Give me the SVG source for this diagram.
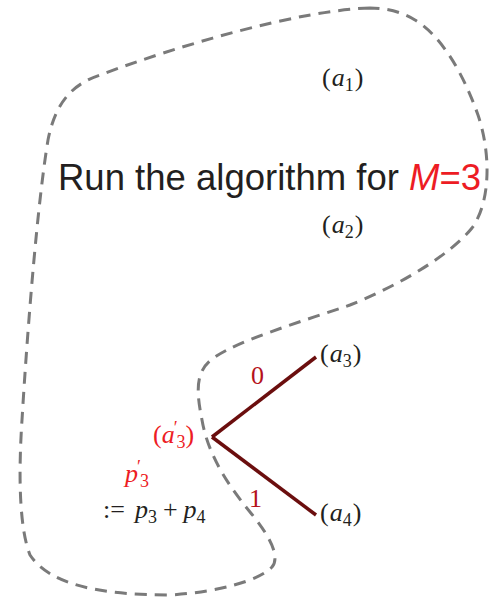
<svg xmlns="http://www.w3.org/2000/svg" width="491" height="599" viewBox="0 0 491 599">
<style>
.m{font-family:"Liberation Serif","DejaVu Serif",serif;font-size:26px;fill:#231f20}
.i{font-style:italic}
.s{font-size:18px}
.r{fill:#ed1c24}
.d{fill:#b5121b}
.edge{stroke:#6b0e0e;stroke-width:3.5;fill:none;stroke-linecap:butt}
</style>
<rect width="491" height="599" fill="#fff"/>
<g id="region">
<path d="M370,8 C300,10 180,45 100,75 C70,85 55,105 48,140 C38,200 28,320 22,420 C18,480 20,530 30,555 C50,585 100,595 170,595 C220,592 260,580 272,567 C282,555 265,530 250,512 C228,485 208,455 202,420 C196,390 195,370 215,357 C240,340 300,322 350,305 C400,285 450,255 472,228 C492,200 490,150 478,115 C462,70 440,35 415,20 C400,11 385,8 370,8 Z" fill="none" stroke="#7a7a7a" stroke-width="3" stroke-dasharray="12,8"/>
</g>
<g id="title">
<text x="58" y="190" font-family="'Liberation Sans',Arial,sans-serif" font-size="36.5" fill="#231f20">Run the algorithm for <tspan class="r" font-style="italic">M</tspan><tspan class="r">=3</tspan></text>
</g>
<g id="connectors">
<line class="edge" x1="212" y1="437" x2="316" y2="357"/>
<line class="edge" x1="212" y1="437" x2="316" y2="515"/>
<text class="m d" x="251" y="384" font-size="22">0</text>
<text class="m d" x="249" y="507" font-size="22">1</text>
</g>
<g id="a1"><text class="m" x="322" y="86">(<tspan class="i" dx="1">a</tspan><tspan class="s" dy="5">1</tspan><tspan dx="1" dy="-5">)</tspan></text></g>
<g id="a2"><text class="m" x="322" y="233">(<tspan class="i" dx="1">a</tspan><tspan class="s" dy="5">2</tspan><tspan dx="1" dy="-5">)</tspan></text></g>
<g id="a3"><text class="m" x="320" y="362">(<tspan class="i" dx="1">a</tspan><tspan class="s" dy="5">3</tspan><tspan dx="1" dy="-5">)</tspan></text></g>
<g id="a4"><text class="m" x="320" y="521">(<tspan class="i" dx="1">a</tspan><tspan class="s" dy="5">4</tspan><tspan dx="1" dy="-5">)</tspan></text></g>
<g id="a3p"><text class="m r" x="153" y="443">(<tspan class="i">a</tspan><tspan class="s" dx="-1" dy="-9">′</tspan><tspan class="s" dx="-1" dy="14">3</tspan><tspan dy="-5">)</tspan></text></g>
<g id="p3p">
<text class="m r" x="125" y="482"><tspan class="i">p</tspan><tspan class="s" dx="-1" dy="-9">′</tspan><tspan class="s" dx="-1" dy="14">3</tspan></text>
<text class="m" x="103" y="518">:=<tspan class="i" dx="10">p</tspan><tspan class="s" dy="5">3</tspan><tspan dx="6" dy="-5">+</tspan><tspan class="i" dx="6">p</tspan><tspan class="s" dy="5">4</tspan></text>
</g>
</svg>
